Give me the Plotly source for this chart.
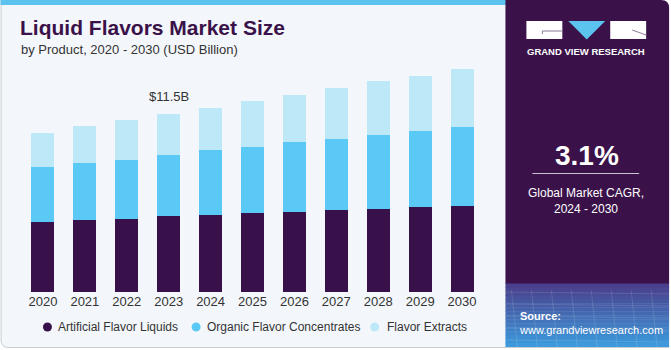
import plotly.graph_objects as go

years = ["2020", "2021", "2022", "2023", "2024", "2025", "2026", "2027", "2028", "2029", "2030"]
artificial = [4.52, 4.66, 4.73, 4.88, 4.99, 5.11, 5.18, 5.29, 5.35, 5.50, 5.57]
organic = [3.53, 3.66, 3.81, 3.95, 4.15, 4.24, 4.50, 4.60, 4.75, 4.88, 5.08]
extracts = [2.21, 2.41, 2.56, 2.67, 2.75, 2.95, 3.01, 3.25, 3.48, 3.55, 3.70]
series_names = ["Artificial Flavor Liquids", "Organic Flavor Concentrates", "Flavor Extracts"]
colors = ["#38104a", "#5bc9f5", "#bde8f8"]
highlight_year = "2023"
highlight_label = "$11.5B"
cagr_text = "3.1%"
cagr_caption = "Global Market CAGR,<br>2024 - 2030"

W, H = 671, 350
L, R, T, B = 21.5, 187.5, 60, 58
PW, PH = W - L - R, H - T - B
YMAX = 14.96


def px(x):
    return (x - L) / PW


def py(y):
    return (H - B - y) / PH


FONT = "Liberation Sans"
fig = go.Figure()
for name, vals, c in zip(series_names, [artificial, organic, extracts], colors):
    fig.add_trace(go.Bar(x=years, y=vals, name=name, marker_color=c,
                         marker_line_width=0, showlegend=False))

shapes = []
# left panel background with border
shapes.append(dict(type="path", xref="paper", yref="paper",
                   path=f"M {px(0.5)} {py(0)} L {px(0.5)} {py(340)} Q {px(0.5)} {py(347.5)} {px(8)} {py(347.5)} "
                        f"L {px(520)} {py(347.5)} L {px(520)} {py(0)} Z",
                   fillcolor="#f3f7fb", line=dict(color="#c9ccd0", width=1), layer="below"))
# top blue strip
shapes.append(dict(type="rect", xref="paper", yref="paper", x0=px(0), x1=px(507), y0=py(0), y1=py(5),
                   fillcolor="#5cc3ee", line_width=0, layer="below"))
# right purple panel with rounded top-right corner
shapes.append(dict(type="path", xref="paper", yref="paper",
                   path=f"M {px(506)} {py(0)} L {px(662)} {py(0)} Q {px(670)} {py(0)} {px(670)} {py(8)} "
                        f"L {px(670)} {py(284)} L {px(506)} {py(284)} Z",
                   fillcolor="#3a1249", line_width=0, layer="below"))
# gradient source panel
top_c = (0x4a, 0x3f, 0x8c)
bot_c = (0x3d, 0x9a, 0xdc)
n = 16
y0p, y1p = 283.5, 347
for i in range(n):
    t = i / (n - 1)
    c = tuple(int(top_c[k] + (bot_c[k] - top_c[k]) * t) for k in range(3))
    ya = y0p + (y1p - y0p) * i / n
    yb = y0p + (y1p - y0p) * (i + 1) / n
    shapes.append(dict(type="rect", xref="paper", yref="paper", x0=px(506), x1=px(670),
                       y0=py(ya), y1=py(yb + 0.5), fillcolor="rgb(%d,%d,%d)" % c, line_width=0, layer="below"))
# bottom gray line under source
shapes.append(dict(type="line", xref="paper", yref="paper", x0=px(506), x1=px(670), y0=py(347.5), y1=py(347.5),
                   line=dict(color="#c9ccd0", width=1)))
# faint grid in source panel
for k in range(9):
    xx = 512 + k * 20
    shapes.append(dict(type="line", xref="paper", yref="paper", x0=px(xx), x1=px(xx + 6), y0=py(290), y1=py(347),
                       line=dict(color="rgba(255,255,255,0.12)", width=1)))
for k in range(5):
    yy = 292 + k * 12
    shapes.append(dict(type="line", xref="paper", yref="paper", x0=px(506), x1=px(670), y0=py(yy), y1=py(yy + 2),
                       line=dict(color="rgba(255,255,255,0.12)", width=1)))
# logo
shapes.append(dict(type="rect", xref="paper", yref="paper", x0=px(527), x1=px(563), y0=py(21), y1=py(39),
                   fillcolor="white", line_width=0))
shapes.append(dict(type="path", xref="paper", yref="paper",
                   path=f"M {px(569)} {py(21)} L {px(606)} {py(21)} L {px(587.5)} {py(39.5)} Z",
                   fillcolor="#5cc3ee", line_width=0))
shapes.append(dict(type="rect", xref="paper", yref="paper", x0=px(611), x1=px(647), y0=py(21), y1=py(39),
                   fillcolor="white", line_width=0))
shapes.append(dict(type="line", xref="paper", yref="paper", x0=px(543), x1=px(563), y0=py(31), y1=py(31),
                   line=dict(color="#8a7a96", width=1)))
shapes.append(dict(type="line", xref="paper", yref="paper", x0=px(543), x1=px(543), y0=py(31), y1=py(34),
                   line=dict(color="#8a7a96", width=1)))
shapes.append(dict(type="line", xref="paper", yref="paper", x0=px(633), x1=px(647), y0=py(30), y1=py(35),
                   line=dict(color="#8a7a96", width=1)))
# divider under CAGR
shapes.append(dict(type="line", xref="paper", yref="paper", x0=px(533), x1=px(640), y0=py(173.5), y1=py(173.5),
                   line=dict(color="#c9c0d0", width=1)))
# legend circles
for cx, c in zip([47, 196, 375], colors):
    shapes.append(dict(type="circle", xref="paper", yref="paper", x0=px(cx - 4.5), x1=px(cx + 4.5),
                       y0=py(327 - 4.5), y1=py(327 + 4.5), fillcolor=c, line_width=0))

annotations = []
annotations.append(dict(xref="paper", yref="paper", x=px(17), y=py(28), xanchor="left", yanchor="middle",
                        text="<b>Liquid Flavors Market Size</b>", showarrow=False,
                        font=dict(family=FONT, size=21, color="#3a1249", weight=900)))
annotations.append(dict(xref="paper", yref="paper", x=px(18), y=py(49), xanchor="left", yanchor="middle",
                        text="by Product, 2020 - 2030 (USD Billion)", showarrow=False,
                        font=dict(family=FONT, size=13, color="#333333")))
hi = years.index(highlight_year)
total_hl = artificial[hi] + organic[hi] + extracts[hi]
annotations.append(dict(x=hi, y=total_hl, xref="x", yref="y", yanchor="bottom", yshift=8,
                        text=highlight_label, showarrow=False, font=dict(family=FONT, size=13, color="#333333")))
annotations.append(dict(xref="paper", yref="paper", x=px(587), y=py(51), xanchor="center", yanchor="middle",
                        text="<b>GRAND VIEW RESEARCH</b>", showarrow=False,
                        font=dict(family=FONT, size=9.5, color="white")))
annotations.append(dict(xref="paper", yref="paper", x=px(588), y=py(155), xanchor="center", yanchor="middle",
                        text=f"<b>{cagr_text}</b>", showarrow=False,
                        font=dict(family=FONT, size=28, color="white")))
annotations.append(dict(xref="paper", yref="paper", x=px(587), y=py(200.5), xanchor="center", yanchor="middle",
                        text=cagr_caption, showarrow=False,
                        font=dict(family=FONT, size=12, color="white")))
annotations.append(dict(xref="paper", yref="paper", x=px(518), y=py(322.5), xanchor="left", yanchor="middle",
                        text="<b>Source:</b><br>www.grandviewresearch.com", showarrow=False, align="left",
                        font=dict(family=FONT, size=11, color="white")))
for tx, name in zip([56, 205, 385], series_names):
    annotations.append(dict(xref="paper", yref="paper", x=px(tx), y=py(327), xanchor="left", yanchor="middle",
                            text=name, showarrow=False, font=dict(family=FONT, size=12, color="#333333")))

fig.update_layout(
    barmode="stack", bargap=0.45,
    width=W, height=H,
    margin=dict(l=L, r=R, t=T, b=B, pad=0),
    paper_bgcolor="white", plot_bgcolor="rgba(0,0,0,0)",
    showlegend=False,
    shapes=shapes, annotations=annotations,
    xaxis=dict(type="category", range=[-0.5, len(years) - 0.5], showgrid=False, zeroline=False,
               showline=False, ticks="", tickfont=dict(family=FONT, size=13, color="#333333")),
    yaxis=dict(range=[0, YMAX], visible=False, showgrid=False),
)
fig.write_html("out.html")
